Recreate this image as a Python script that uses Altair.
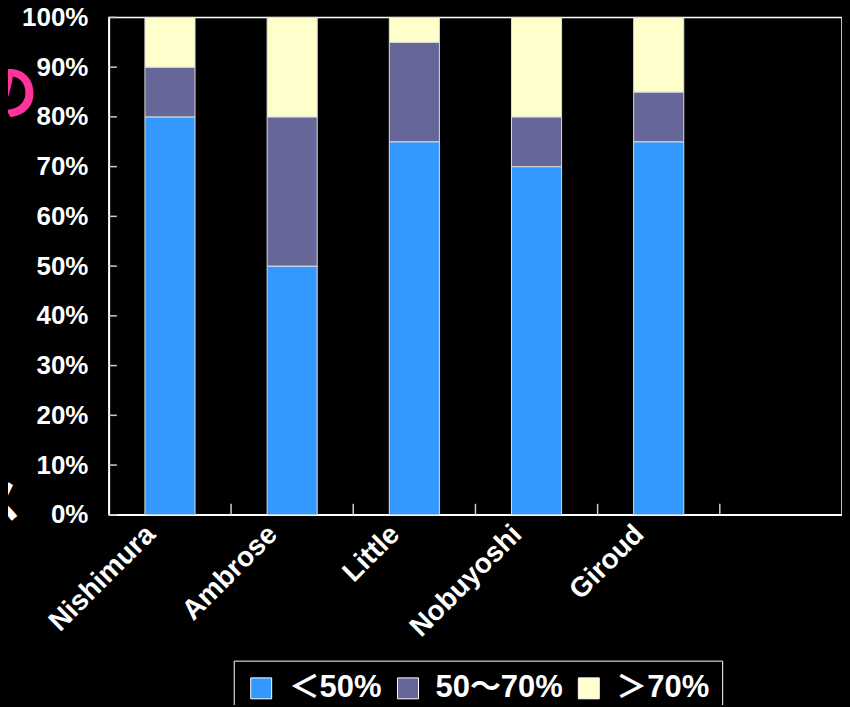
import importlib
import altair as alt
import pandas as pd

categories = ["Nishimura", "Ambrose", "Little", "Nobuyoshi", "Giroud", " "]
groups = ["＜50%", "50～70%", "＞70%"]
colors = ["#3399FF", "#666699", "#FFFFCC"]
low = [80, 50, 75, 70, 75]
mid = [10, 30, 20, 10, 10]
high = [10, 20, 5, 20, 15]
y_ticks = [0, 10, 20, 30, 40, 50, 60, 70, 80, 90, 100]


# make the page around the chart black as in the reference (harmless if not found)
def _wrap(fn):
    def inner(*args, **kwargs):
        html = fn(*args, **kwargs)
        if isinstance(html, str):
            html = html.replace("<style>", "<style>\n    body { background: black; }", 1)
        return html
    return inner


for _mod_name in ["altair.utils.save", "altair.utils.mimebundle", "altair.utils.html"]:
    try:
        _m = importlib.import_module(_mod_name)
        if hasattr(_m, "spec_to_html"):
            setattr(_m, "spec_to_html", _wrap(getattr(_m, "spec_to_html")))
    except Exception:
        pass

rows = []
for i, c in enumerate(categories[:5]):
    for k, (g, v) in enumerate(zip(groups, [low[i], mid[i], high[i]])):
        rows.append({"cat": c, "group": g, "value": v, "ord": k})
df = pd.DataFrame(rows)

FONT = "Liberation Sans, Noto Sans CJK JP, sans-serif"

x_scale = alt.Scale(domain=categories, paddingInner=0, paddingOuter=0)
y_scale = alt.Scale(domain=[0, 100])

bars = alt.Chart(df).mark_bar(width={"band": 0.41}, stroke="#dddddd", strokeWidth=1).encode(
    x=alt.X("cat:N", scale=x_scale, sort=categories,
            axis=alt.Axis(title=None, labelAngle=315, labelAlign="right", labelBaseline="middle",
                          labelFontSize=28, labelFont=FONT, labelFontWeight="bold",
                          labelColor="white", labelPadding=15, labelOffset=-19,
                          tickSize=0, domainColor="white", domainWidth=1.5)),
    y=alt.Y("value:Q", stack="zero", scale=y_scale,
            axis=alt.Axis(title=None, values=y_ticks, labelExpr="datum.value + '%'",
                          labelFontSize=26, labelFont=FONT, labelFontWeight="bold",
                          labelColor="white", labelPadding=21, tickSize=0,
                          domainColor="white", domainWidth=1.5, grid=False)),
    color=alt.Color("group:N", scale=alt.Scale(domain=groups, range=colors),
                    legend=alt.Legend(title=None, orient="none", direction="horizontal",
                                      legendX=125, legendY=644,
                                      symbolType="square", symbolSize=440,
                                      symbolStrokeColor="white", symbolStrokeWidth=1,
                                      symbolOpacity=1,
                                      labelFontSize=31, labelFont=FONT, labelFontWeight="bold",
                                      labelColor="white", labelOffset=12, columnPadding=10,
                                      padding=12, strokeColor="white", fillColor="black")),
    order=alt.Order("ord:Q"),
)

ytick_df = pd.DataFrame({"value": y_ticks})
yticks = alt.Chart(ytick_df).mark_rule(color="#cccccc", strokeWidth=1.5).encode(
    y=alt.Y("value:Q", scale=y_scale),
    x=alt.value(0),
    x2=alt.value(8),
)

xtick_df = pd.DataFrame({"cat": categories[1:]})
xticks = alt.Chart(xtick_df).mark_rule(color="#cccccc", strokeWidth=1.5).encode(
    x=alt.X("cat:N", scale=x_scale, bandPosition=0),
    y=alt.value(498),
    y2=alt.value(487),
)

glyph_df = pd.DataFrame({"t": ["の", "ス"], "c": ["#FF3399", "white"],
                         "px": [-101, -112], "py": [79, 487], "fs": [60, 48]})
glyphs = alt.Chart(glyph_df).mark_text(font=FONT, fontWeight="bold").encode(
    text="t:N",
    x=alt.X("px:Q", scale=None),
    y=alt.Y("py:Q", scale=None),
    size=alt.Size("fs:Q", scale=None),
    color=alt.Color("c:N", scale=None),
)

chart = alt.layer(bars, yticks, xticks, glyphs).properties(
    width=734, height=498,
    background="black",
    autosize="none",
    padding={"left": 101, "top": 9, "right": 0, "bottom": 190},
).configure_view(stroke="white", strokeWidth=1.5)

chart.save("out.html", embed_options={"renderer": "svg", "actions": False})
